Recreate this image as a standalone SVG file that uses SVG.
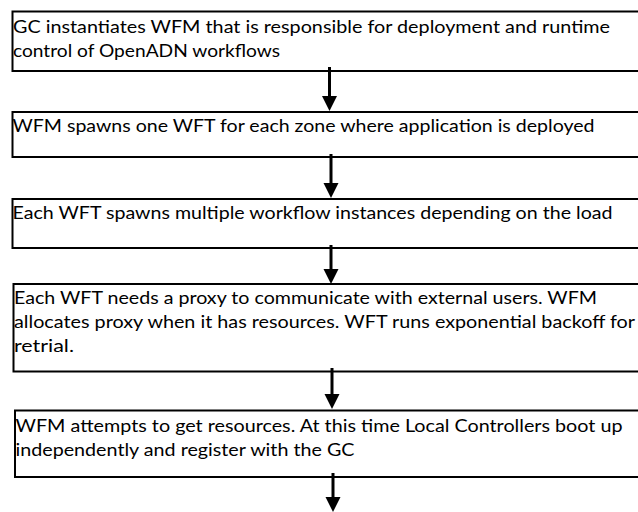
<svg xmlns="http://www.w3.org/2000/svg" width="638" height="512" viewBox="0 0 638 512">
  <style>
    .box { fill: #ffffff; stroke: #000000; stroke-width: 2; }
    .lbl { font-family: Lato, "Open Sans", "Liberation Sans", sans-serif; font-size: 18px; fill: #000000; }
    .flow { stroke: #000000; stroke-width: 3; fill: none; }
    .tip { fill: #000000; }
  </style>
  <rect width="638" height="512" fill="#ffffff"/>

  <g id="step1">
    <rect class="box" x="12.5" y="11.5" width="640" height="59.5"/>
    <text class="lbl" x="13" y="33" textLength="597" lengthAdjust="spacingAndGlyphs">GC instantiates WFM that is responsible for deployment and runtime</text>
    <text class="lbl" x="13" y="57" textLength="267" lengthAdjust="spacingAndGlyphs">control of OpenADN workflows</text>
  </g>

  <g id="step2">
    <rect class="box" x="12.5" y="112" width="640" height="45"/>
    <text class="lbl" x="12.5" y="132" textLength="582" lengthAdjust="spacingAndGlyphs">WFM spawns one WFT for each zone where application is deployed</text>
  </g>

  <g id="step3">
    <rect class="box" x="12.5" y="199" width="640" height="49"/>
    <text class="lbl" x="12.5" y="219" textLength="600" lengthAdjust="spacingAndGlyphs">Each WFT spawns multiple workflow instances depending on the load</text>
  </g>

  <g id="step4">
    <rect class="box" x="13.5" y="284" width="640" height="87.5"/>
    <text class="lbl" x="14" y="304" textLength="583" lengthAdjust="spacingAndGlyphs">Each WFT needs a proxy to communicate with external users. WFM</text>
    <text class="lbl" x="14" y="328" textLength="621" lengthAdjust="spacingAndGlyphs">allocates proxy when it has resources. WFT runs exponential backoff for</text>
    <text class="lbl" x="14" y="352" textLength="60" lengthAdjust="spacingAndGlyphs">retrial.</text>
  </g>

  <g id="step5">
    <rect class="box" x="15" y="410.5" width="640" height="66.5"/>
    <text class="lbl" x="15.5" y="432" textLength="607" lengthAdjust="spacingAndGlyphs">WFM attempts to get resources. At this time Local Controllers boot up</text>
    <text class="lbl" x="15.5" y="456" textLength="339" lengthAdjust="spacingAndGlyphs">independently and register with the GC</text>
  </g>

  <g id="connectors">
    <line class="flow" x1="329.5" y1="67" x2="329.5" y2="96"/>
    <polygon class="tip" points="322,96 337,96 329.5,111"/>
    <line class="flow" x1="331" y1="154" x2="331" y2="183"/>
    <polygon class="tip" points="323.5,183 338.5,183 331,198"/>
    <line class="flow" x1="331" y1="245" x2="331" y2="269"/>
    <polygon class="tip" points="323.5,269 338.5,269 331,284"/>
    <line class="flow" x1="332" y1="368" x2="332" y2="394"/>
    <polygon class="tip" points="324.5,394 339.5,394 332,409"/>
    <line class="flow" x1="333" y1="473" x2="333" y2="497"/>
    <polygon class="tip" points="325.5,497 340.5,497 333,512"/>
  </g>
</svg>
